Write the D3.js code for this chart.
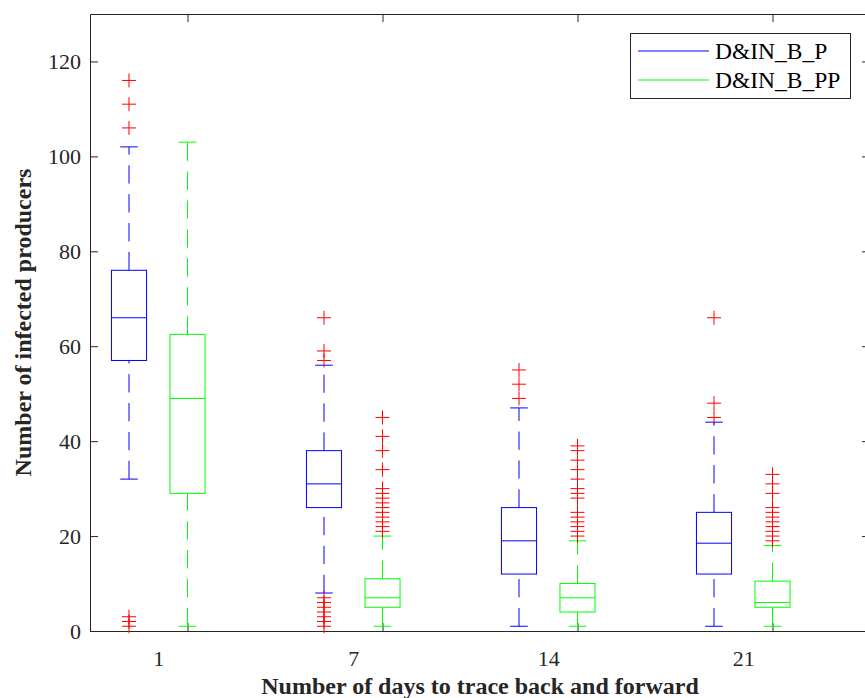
<!DOCTYPE html>
<html>
<head>
<meta charset="utf-8">
<script src="https://cdn.jsdelivr.net/npm/d3@7"></script>
<style>
  html, body { margin: 0; padding: 0; background: #fff; }
  svg { display: block; }
</style>
</head>
<body>
<svg id="chart" width="865" height="698"></svg>
<script>
// Days traced back and forward (one group per value)
const days = ["1", "7", "14", "21"];
const seriesNames = ["D&IN_B_P", "D&IN_B_PP"];
const yTicks = [0, 20, 40, 60, 80, 100, 120];

// D&IN_B_P box statistics
const pLower  = [32, 8, 1, 1];
const pQ1     = [57, 26, 12, 12];
const pMedian = [66, 31, 19, 18.5];
const pQ3     = [76, 38, 26, 25];
const pUpper  = [102, 56, 47, 44];
const pOutliers = [
  [116, 111, 106, 3, 2, 1],
  [66, 59, 57, 7, 6, 5, 4, 3, 2, 1],
  [55, 52, 49],
  [66, 48, 45]
];

// D&IN_B_PP box statistics
const ppLower  = [1, 1, 1, 1];
const ppQ1     = [29, 5, 4, 5];
const ppMedian = [49, 7, 7, 6];
const ppQ3     = [62.5, 11, 10, 10.5];
const ppUpper  = [103, 20, 19, 18];
const ppOutliers = [
  [],
  [45, 41, 38, 34, 30, 29, 28, 27, 26, 25, 24, 23, 22, 21],
  [39, 38, 36, 34, 32, 30, 29, 28, 25, 24, 23, 22, 21, 20],
  [33, 31, 29, 26, 25, 24, 23, 22, 21, 20, 19]
];

const series = [
  { name: seriesNames[0], color: "#0000ff", lower: pLower, q1: pQ1, med: pMedian, q3: pQ3, upper: pUpper, out: pOutliers },
  { name: seriesNames[1], color: "#00ff00", lower: ppLower, q1: ppQ1, med: ppMedian, q3: ppQ3, upper: ppUpper, out: ppOutliers }
];

const axisColor = "#262626";
const fontFamily = "'Liberation Serif', 'Times New Roman', serif";

const margin = { left: 90, top: 14, right: 870, bottom: 631 };
const offset = 0.3;      // second box sits 0.3 units right of the first
const boxHalf = 0.09;    // half box width in x units

const svg = d3.select("#chart");

const x = d3.scaleLinear().domain([0.8, 4.8]).range([margin.left, margin.right]);
const y = d3.scaleLinear().domain([0, 130]).range([margin.bottom, margin.top]);

const groupPos = days.map((d, i) => i + 1);
const tickPos = groupPos.map(p => p + offset);
const labelPos = groupPos.map(p => p + offset / 2);

// Axes frame with inward ticks
const tickLen = 8;
const gy = svg.append("g").attr("transform", `translate(${margin.left},0)`)
  .call(d3.axisLeft(y).tickValues(yTicks).tickSize(-tickLen).tickSizeOuter(0).tickPadding(9));
const gyr = svg.append("g").attr("transform", `translate(${margin.right},0)`)
  .call(d3.axisRight(y).tickValues(yTicks).tickSize(-tickLen).tickSizeOuter(0).tickFormat(""));
const gx = svg.append("g").attr("transform", `translate(0,${margin.bottom})`)
  .call(d3.axisBottom(x).tickValues(tickPos).tickSize(-tickLen).tickSizeOuter(0).tickFormat(""));
const gxt = svg.append("g").attr("transform", `translate(0,${margin.top})`)
  .call(d3.axisTop(x).tickValues(tickPos).tickSize(-tickLen).tickSizeOuter(0).tickFormat(""));
const gxl = svg.append("g").attr("transform", `translate(0,${margin.bottom})`)
  .call(d3.axisBottom(x).tickValues(labelPos).tickSize(0).tickPadding(19)
    .tickFormat((d, i) => days[i]));
gxl.select(".domain").remove();

[gy, gyr, gx, gxt, gxl].forEach(g => {
  g.selectAll(".domain, .tick line").attr("stroke", axisColor).attr("stroke-width", 1);
  g.selectAll("text").attr("fill", axisColor).attr("font-family", fontFamily).attr("font-size", 22);
});

// Box plots
const plot = svg.append("g");
series.forEach((s, si) => {
  days.forEach((d, i) => {
    const p = groupPos[i] + si * offset;
    const cx = x(p);
    const x0 = x(p - boxHalf), x1 = x(p + boxHalf);
    const c0 = x(p - boxHalf / 2), c1 = x(p + boxHalf / 2);
    const g = plot.append("g").attr("stroke", s.color).attr("fill", "none").attr("stroke-width", 1);
    // whiskers drawn from low end to high end
    g.append("line").attr("x1", cx).attr("x2", cx)
      .attr("y1", y(s.q3[i])).attr("y2", y(s.upper[i]))
      .attr("stroke-dasharray", "18.3,10.6");
    g.append("line").attr("x1", cx).attr("x2", cx)
      .attr("y1", y(s.lower[i])).attr("y2", y(s.q1[i]))
      .attr("stroke-dasharray", "18.3,10.6");
    // caps
    g.append("line").attr("x1", c0).attr("x2", c1).attr("y1", y(s.upper[i])).attr("y2", y(s.upper[i]));
    g.append("line").attr("x1", c0).attr("x2", c1).attr("y1", y(s.lower[i])).attr("y2", y(s.lower[i]));
    // box and median
    g.append("rect").attr("x", x0).attr("y", y(s.q3[i]))
      .attr("width", x1 - x0).attr("height", y(s.q1[i]) - y(s.q3[i]));
    g.append("line").attr("x1", x0).attr("x2", x1).attr("y1", y(s.med[i])).attr("y2", y(s.med[i]));
  });
});

// Outliers as red plus markers
const m = 7;
series.forEach((s, si) => {
  days.forEach((d, i) => {
    const cx = x(groupPos[i] + si * offset);
    plot.append("g").selectAll("path").data(s.out[i]).join("path")
      .attr("d", v => `M${cx - m},${y(v)}H${cx + m}M${cx},${y(v) - m}V${y(v) + m}`)
      .attr("stroke", "#ff0000").attr("stroke-width", 1).attr("fill", "none");
  });
});

// Axis titles
svg.append("text")
  .attr("x", (margin.left + margin.right) / 2).attr("y", 694)
  .attr("text-anchor", "middle")
  .attr("font-family", fontFamily).attr("font-weight", "bold").attr("font-size", 24)
  .attr("fill", axisColor)
  .text("Number of days to trace back and forward");

svg.append("text")
  .attr("transform", `translate(31,${(margin.top + margin.bottom) / 2}) rotate(-90)`)
  .attr("text-anchor", "middle")
  .attr("font-family", fontFamily).attr("font-weight", "bold").attr("font-size", 24)
  .attr("fill", axisColor)
  .text("Number of infected producers");

// Legend
const legend = svg.append("g");
legend.append("rect").attr("x", 630.5).attr("y", 33.5).attr("width", 220).attr("height", 65)
  .attr("fill", "#fff").attr("stroke", axisColor).attr("stroke-width", 1);
series.forEach((s, si) => {
  const ly = 51 + si * 29;
  legend.append("line").attr("x1", 638).attr("x2", 709).attr("y1", ly).attr("y2", ly)
    .attr("stroke", s.color).attr("stroke-width", 1);
  legend.append("text").attr("x", 715).attr("y", ly + 8)
    .attr("font-family", fontFamily).attr("font-size", 23.5).attr("fill", "#000")
    .text(s.name);
});
</script>
</body>
</html>
